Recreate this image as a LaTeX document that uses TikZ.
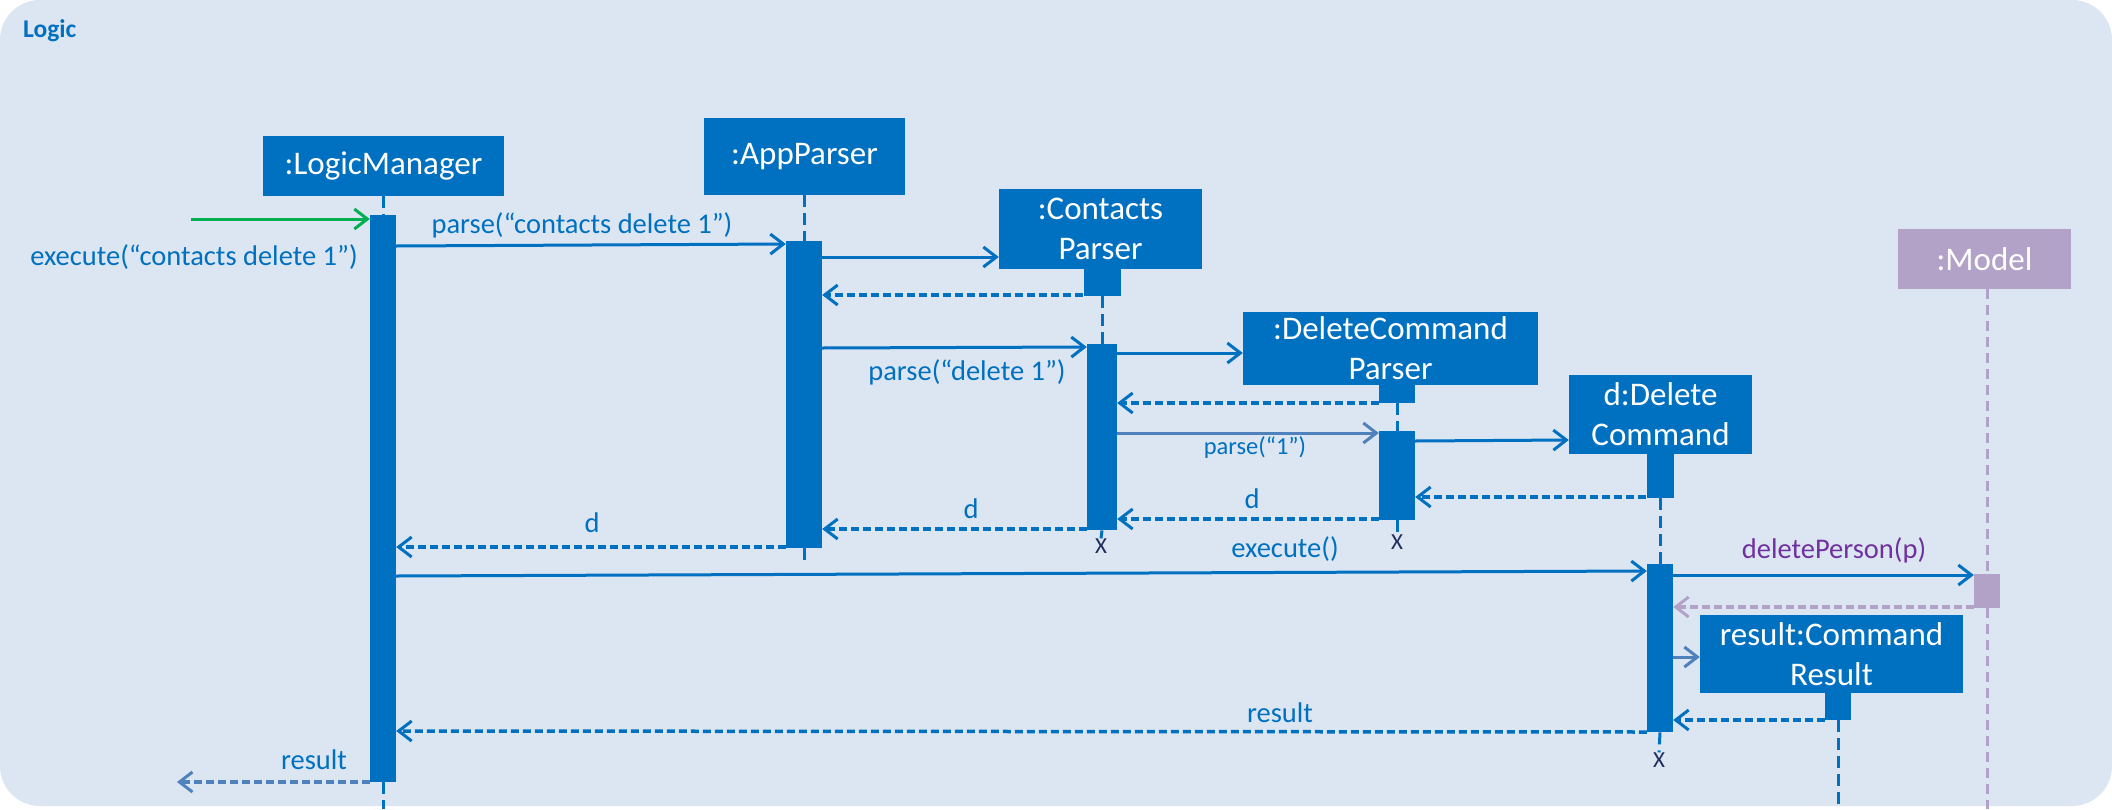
\documentclass[tikz,border=0pt]{standalone}
\usepackage{fontspec}
\setmainfont{Carlito}
\usetikzlibrary{arrows.meta}
\definecolor{mblue}{HTML}{0070C0}
\definecolor{bgblue}{HTML}{DCE6F2}
\definecolor{lilac}{HTML}{B3A2C7}
\definecolor{mpurple}{HTML}{7030A0}
\definecolor{mgreen}{HTML}{00B050}
\definecolor{lblue}{HTML}{4F81BD}
\definecolor{xnavy}{HTML}{1F2D5C}
\begin{document}
\begin{tikzpicture}[x=1pt,y=-1pt,
  obj/.style={fill=mblue, text=white, inner sep=0pt, align=center, font=\fontsize{33}{40}\selectfont},
  bar/.style={fill=mblue, inner sep=0pt, anchor=north},
  msgtip/.style={-{Straight Barb[length=13pt,width=20pt,line width=3pt]}},
  msg/.style={msgtip, draw=mblue, line width=3pt},
  ret/.style={msgtip, draw=mblue, line width=3.5pt, dash pattern=on 8pt off 4pt},
  life/.style={draw=mblue, line width=3pt, dash pattern=on 12pt off 6pt},
  lbl/.style={text=mblue, inner sep=0pt, font=\fontsize{28.5}{32}\selectfont},
  xmark/.style={text=xnavy, inner sep=0pt, font=\fontsize{23}{25}\selectfont}]
\useasboundingbox (0,0) rectangle (2112,809);
\fill[white] (0,0) rectangle (2112,809);
\fill[bgblue, rounded corners=40pt] (0,0) rectangle (2112,806);
\node[anchor=west, text=mblue, inner sep=0pt, font=\fontsize{25.5}{28}\selectfont\bfseries] (title) at (23,31) {Logic};

% objects
\node[obj, minimum width=241pt, minimum height=60pt] (lm) at (383.5,166) {:LogicManager};
\node[obj, minimum width=201pt, minimum height=77pt] (ap) at (804.5,156.5) {:AppParser};
\node[obj, minimum width=203pt, minimum height=80pt] (cp) at (1100.5,229) {:Contacts\\Parser};
\node[obj, minimum width=295pt, minimum height=73pt] (dcp) at (1390.5,348.5) {:DeleteCommand\\Parser};
\node[obj, minimum width=183pt, minimum height=79pt] (dc) at (1660.5,414.5) {d:Delete\\Command};
\node[obj, fill=lilac, minimum width=173pt, minimum height=60pt] (model) at (1984.5,259) {:Model};
\node[obj, minimum width=263pt, minimum height=78pt] (res) at (1831.5,654) {result:Command\\Result};

% activation bars
\node[bar, minimum width=26pt, minimum height=567pt] (lmb) at (383,215) {};
\node[bar, minimum width=36pt, minimum height=307pt] (apb) at (804,241) {};
\node[bar, minimum width=37pt, minimum height=27pt] (cpb1) at (1102,269) {};
\node[bar, minimum width=30pt, minimum height=186pt] (cpb2) at (1102,344) {};
\node[bar, minimum width=36pt, minimum height=18pt] (dcpb1) at (1397,385) {};
\node[bar, minimum width=36pt, minimum height=89pt] (dcpb2) at (1397,431) {};
\node[bar, minimum width=27pt, minimum height=44pt] (dcb1) at (1660,454) {};
\node[bar, minimum width=26pt, minimum height=168pt] (dcb2) at (1660,564) {};
\node[bar, fill=lilac, minimum width=26pt, minimum height=34pt] (mb) at (1987,574) {};
\node[bar, minimum width=26pt, minimum height=27pt] (rb) at (1838,693) {};

% destruction marks
\node[xmark] (cpx) at (1101,546) {X};
\node[xmark] (dcpx) at (1397,542) {X};
\node[xmark] (dcx) at (1659,760) {X};

% lifeline ends
\coordinate (lmend) at (383,809);
\coordinate (apend) at (804,563);
\coordinate (mend) at (1987,809);
\coordinate (rend) at (1838,809);

% lifelines
\draw[life] (lm.south -| lmb.north) -- (lmb.north);
\draw[life] (lmb.south) -- (lmend);
\draw[life] (ap.south -| apb.north) -- (apb.north);
\draw[life] (apb.south) -- (apend);
\draw[life] (cpb1.south) -- (cpb2.north);
\draw[life] (cpb2.south) -- (cpx.north);
\draw[life] (dcpb1.south) -- (dcpb2.north);
\draw[life] (dcpb2.south) -- (dcpx.north);
\draw[life] (dcb1.south) -- (dcb2.north);
\draw[life] (dcb2.south) -- (dcx.north);
\draw[life] (rb.south) -- (rend);
\draw[life, draw=lilac, dash pattern=on 10pt off 6pt] (model.south -| mb.north) -- (mb.north);
\draw[life, draw=lilac, dash pattern=on 10pt off 6pt] (mb.south) -- (mend);

% messages
\coordinate (gstart) at (191,219);
\draw[msg, draw=mgreen] (gstart) -- (lmb.west |- gstart);
\node[lbl] (l1) at (194,257) {execute(“contacts delete 1”)};

\draw[msg] (lmb.east |- 0,246) -- (apb.west |- 0,244);
\node[lbl] (l2) at (582,225) {parse(“contacts delete 1”)};

\draw[msg] (apb.east |- 0,257) -- (cp.west |- 0,257);
\draw[ret] (cpb1.west |- 0,295) -- (apb.east |- 0,295);

\draw[msg] (apb.east |- 0,348) -- (cpb2.west |- 0,347);
\node[lbl] (l3) at (967,372) {parse(“delete 1”)};

\draw[msg] (cpb2.east |- 0,353) -- (dcp.west |- 0,353);
\draw[ret] (dcpb1.west |- 0,403) -- (cpb2.east |- 0,403);

\draw[msg, draw=lblue] (cpb2.east |- 0,433) -- (dcpb2.west |- 0,433);
\node[lbl, font=\fontsize{24.5}{28}\selectfont] (l4) at (1255,448) {parse(“1”)};

\draw[msg] (dcpb2.east |- 0,441) -- (dc.west |- 0,440);
\draw[ret] (dcb1.west |- 0,497) -- (dcpb2.east |- 0,497);

\draw[ret] (dcpb2.west |- 0,519) -- (cpb2.east |- 0,519);
\node[lbl] (l5) at (1252,499) {d};
\draw[ret] (cpb2.west |- 0,529) -- (apb.east |- 0,529);
\node[lbl] (l6) at (971,509) {d};
\draw[ret] (apb.west |- 0,547) -- (lmb.east |- 0,547);
\node[lbl] (l7) at (592,523) {d};

\draw[msg] (lmb.east |- 0,576) -- (dcb2.west |- 0,571);
\node[lbl] (l8) at (1285,549) {execute()};

\draw[msg] (dcb2.east |- 0,575) -- (mb.west |- 0,575);
\node[lbl, text=mpurple] (l9) at (1834,550) {deletePerson(p)};
\draw[ret, draw=lilac] (mb.west |- 0,607) -- (dcb2.east |- 0,607);

\draw[msg, draw=lblue] (dcb2.east |- 0,657) -- (res.west |- 0,657);
\draw[ret] (rb.west |- 0,720) -- (dcb2.east |- 0,720);

\draw[ret] (dcb2.west |- 0,732) -- (lmb.east |- 0,731);
\node[lbl] (l10) at (1280,713) {result};

\coordinate (outend) at (177,782);
\draw[ret, draw=lblue] (lmb.west |- outend) -- (outend);
\node[lbl] (l11) at (314,760) {result};
\end{tikzpicture}
\end{document}
